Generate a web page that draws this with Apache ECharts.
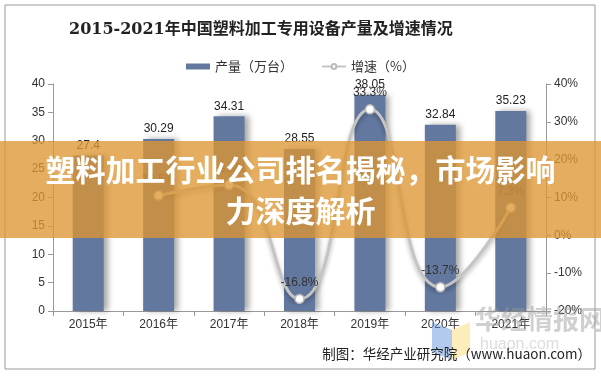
<!DOCTYPE html>
<html>
<head>
<meta charset="utf-8">
<script src="https://cdn.jsdelivr.net/npm/echarts@6/dist/echarts.min.js"></script>
<style>
html,body{margin:0;padding:0;background:#fff;}
#c{width:601px;height:380px;}
</style>
</head>
<body>
<div id="c"></div>
<script>
var categories = ['2015年','2016年','2017年','2018年','2019年','2020年','2021年'];
var output = [27.4, 30.29, 34.31, 28.55, 38.05, 32.84, 35.23];
var growth = [null, 10.5, 13.3, -16.8, 33.3, -13.7, 7.3];
var titleText = '2015-2021年中国塑料加工专用设备产量及增速情况';
var bannerLine1 = '塑料加工行业公司排名揭秘，市场影响';
var bannerLine2 = '力深度解析';
var sourceText = '制图：华经产业研究院（www.huaon.com）';

var chart = echarts.init(document.getElementById('c'), null, {renderer:'canvas'});
var font = '"Noto Sans CJK SC", "Liberation Sans", sans-serif';
var option = {
  backgroundColor:'#fff',
  textStyle:{fontFamily:font},
  title:{
    text:titleText, left:64, top:17,
    textStyle:{fontSize:16, fontWeight:'bold', color:'#222', fontFamily:'"DejaVu Serif", "Noto Sans CJK SC", serif'}
  },
  legend:{
    top:55, left:'center',
    itemWidth:24, itemHeight:6, itemGap:28,
    textStyle:{fontSize:13, color:'#333', fontFamily:font},
    data:[{name:'产量（万台）', icon:'rect'},{name:'增速（%）'}]
  },
  grid:{left:53, right:55, top:84, bottom:69},
  xAxis:{
    type:'category', data:categories,
    axisLine:{lineStyle:{color:'#999'}},
    axisTick:{show:true, alignWithLabel:false, lineStyle:{color:'#999'}},
    axisLabel:{color:'#333', fontSize:12, margin:8, fontFamily:'"Liberation Sans", "Noto Sans CJK SC", sans-serif'}
  },
  yAxis:[{
    type:'value', min:0, max:40, interval:5,
    axisLine:{show:true, lineStyle:{color:'#999'}},
    axisTick:{show:true, lineStyle:{color:'#999'}},
    splitLine:{show:false},
    axisLabel:{color:'#333', fontSize:12, fontFamily:'"Liberation Sans", sans-serif'}
  },{
    type:'value', min:-20, max:40, interval:10, position:'right',
    axisLine:{show:true, lineStyle:{color:'#999'}},
    axisTick:{show:true, lineStyle:{color:'#999'}},
    splitLine:{show:false},
    axisLabel:{color:'#333', fontSize:12, formatter:'{value}%', fontFamily:'"Liberation Sans", sans-serif'}
  }],
  series:[{
    name:'产量（万台）', type:'bar', data:output, barWidth:31,
    itemStyle:{color:'#62789f', shadowColor:'rgba(0,0,0,0.35)', shadowBlur:6, shadowOffsetX:4, shadowOffsetY:0},
    label:{show:true, position:'top', color:'#222', fontSize:12, distance:4, fontFamily:'"Liberation Sans", sans-serif'},
    z:2
  },{
    name:'增速（%）', type:'line', yAxisIndex:1, data:growth, smooth:0.5,
    symbol:'circle', symbolSize:9, showSymbol:true,
    lineStyle:{color:'#c4c4c4', width:3, shadowColor:'rgba(0,0,0,0.3)', shadowBlur:4, shadowOffsetY:3},
    itemStyle:{color:'#fff', borderColor:'#bbb', borderWidth:1.5},
    label:{show:true, position:'top', distance:5, color:'#333', fontSize:12, formatter:function(p){return p.value+'%';}, fontFamily:'"Liberation Sans", sans-serif'},
    z:3
  }],
  graphic:[
    {type:'rect', shape:{x:5, y:5, width:590, height:364}, style:{fill:'none', stroke:'#999', lineWidth:1}, z:-1, silent:true},
    {type:'text', left:475, top:306, style:{text:'华经情报网', fill:'rgba(150,150,150,0.45)', font:'bold 26px "Noto Sans CJK SC"'}, z:50},
    {type:'text', left:480, top:337, style:{text:'huaon.com', fill:'rgba(170,170,170,0.4)', font:'16px "Liberation Sans"'}, z:50},
    {type:'polygon', shape:{points:[[432,322],[452,330],[452,360],[432,352]]}, style:{fill:'rgba(100,150,220,0.5)'}, z:50},
    {type:'polygon', shape:{points:[[452,330],[470,322],[470,352],[452,360]]}, style:{fill:'rgba(250,220,120,0.5)'}, z:50},
    {type:'text', right:10, top:347, style:{text:sourceText, fill:'#222', font:'13.5px "Noto Sans CJK SC", "Liberation Sans"'}, z:60},
    {type:'rect', shape:{x:0, y:141, width:601, height:97}, style:{fill:'rgba(222,150,50,0.78)'}, z:100, silent:true},
    {type:'text', left:'center', top:155, style:{text:bannerLine1, fill:'#fff', font:'bold 30px "Noto Sans CJK SC"', shadowColor:'rgba(0,0,0,0.35)', shadowBlur:4, shadowOffsetX:1, shadowOffsetY:1}, z:101},
    {type:'text', left:'center', top:196, style:{text:bannerLine2, fill:'#fff', font:'bold 30px "Noto Sans CJK SC"', shadowColor:'rgba(0,0,0,0.35)', shadowBlur:4, shadowOffsetX:1, shadowOffsetY:1}, z:101}
  ]
};
chart.setOption(option);
</script>
</body>
</html>
